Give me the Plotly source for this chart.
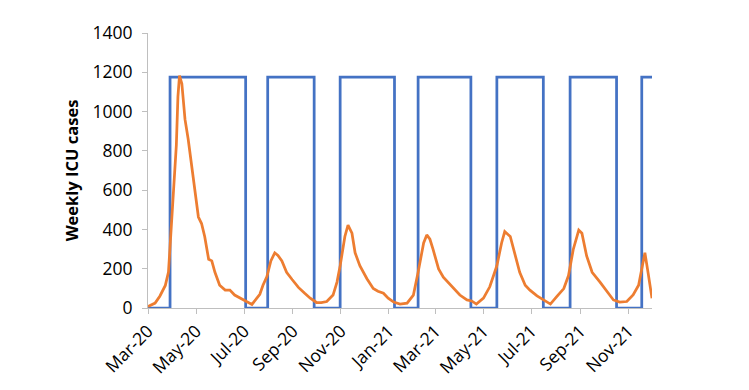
import plotly.graph_objects as go

# Blue step series (state changes; 'hv' step shape)
blue_dates = ["2020-03-01", "2020-03-29", "2020-07-03", "2020-07-31", "2020-09-28",
              "2020-10-31", "2021-01-08", "2021-02-07", "2021-04-15", "2021-05-18",
              "2021-07-16", "2021-08-19", "2021-10-17", "2021-11-18", "2021-12-01"]
blue_values = [0, 1175, 0, 1175, 0, 1175, 0, 1175, 0, 1175, 0, 1175, 0, 1175, 1175]

# Orange series (weekly ICU cases)
orange_dates = [
    "2020-03-01", "2020-03-10", "2020-03-16", "2020-03-23", "2020-03-27", "2020-03-29",
    "2020-04-02", "2020-04-06", "2020-04-08", "2020-04-10", "2020-04-13", "2020-04-17",
    "2020-04-21", "2020-04-25", "2020-04-30", "2020-05-04", "2020-05-08", "2020-05-12",
    "2020-05-17", "2020-05-21", "2020-05-25", "2020-05-31", "2020-06-07", "2020-06-13",
    "2020-06-19", "2020-06-26", "2020-07-03", "2020-07-11", "2020-07-21", "2020-07-25",
    "2020-07-30", "2020-08-04", "2020-08-09", "2020-08-13", "2020-08-18", "2020-08-24",
    "2020-08-31", "2020-09-08", "2020-09-16", "2020-09-23", "2020-10-01", "2020-10-07",
    "2020-10-14", "2020-10-22", "2020-10-27", "2020-10-31", "2020-11-06", "2020-11-10",
    "2020-11-15", "2020-11-19", "2020-11-25", "2020-12-04", "2020-12-12", "2020-12-18",
    "2020-12-25", "2020-12-31", "2021-01-07", "2021-01-15", "2021-01-24", "2021-02-01",
    "2021-02-07", "2021-02-14", "2021-02-18", "2021-02-22", "2021-02-26", "2021-03-05",
    "2021-03-11", "2021-03-17", "2021-03-24", "2021-04-01", "2021-04-10", "2021-04-16",
    "2021-04-22", "2021-05-01", "2021-05-09", "2021-05-18", "2021-05-24", "2021-05-28",
    "2021-06-04", "2021-06-10", "2021-06-16", "2021-06-23", "2021-06-29", "2021-07-08",
    "2021-07-16", "2021-07-25", "2021-08-02", "2021-08-11", "2021-08-17", "2021-08-23",
    "2021-08-30", "2021-09-03", "2021-09-09", "2021-09-16", "2021-09-26", "2021-10-05",
    "2021-10-13", "2021-10-21", "2021-10-30", "2021-11-07", "2021-11-14", "2021-11-18",
    "2021-11-22", "2021-11-26", "2021-12-01"]
orange_values = [
    8, 25, 60, 115, 183, 315,
    580, 830, 1075, 1183, 1142, 960,
    860, 730, 580, 463, 430, 364,
    248, 240, 182, 116, 91, 91,
    66, 50, 36, 18, 70, 116,
    160, 240, 281, 268, 240, 182,
    145, 105, 75, 50, 28, 28,
    33, 66, 132, 215, 364, 422,
    381, 281, 215, 149, 99, 85,
    75, 50, 30, 20, 25, 66,
    182, 331, 372, 350, 298, 199,
    157, 132, 99, 66, 41, 36,
    20, 50, 108, 215, 331, 389,
    364, 265, 182, 116, 91, 62,
    41, 20, 58, 99, 165, 298,
    397, 381, 265, 182, 132, 83,
    41, 30, 33, 66, 116, 199,
    281, 180, 50]

tick_dates = ["2020-03-01", "2020-05-01", "2020-07-01", "2020-09-01", "2020-11-01",
              "2021-01-01", "2021-03-01", "2021-05-01", "2021-07-01", "2021-09-01",
              "2021-11-01"]
tick_labels = ["Mar-20", "May-20", "Jul-20", "Sep-20", "Nov-20", "Jan-21",
               "Mar-21", "May-21", "Jul-21", "Sep-21", "Nov-21"]

fig = go.Figure()
fig.add_trace(go.Scatter(x=blue_dates, y=blue_values, mode="lines",
                         line=dict(color="#4472C4", width=2.75, shape="hv"),
                         showlegend=False))
fig.add_trace(go.Scatter(x=orange_dates, y=orange_values, mode="lines",
                         line=dict(color="#ED7D31", width=2.75),
                         showlegend=False))

fig.update_layout(
    width=741, height=382,
    margin=dict(l=140, r=97, t=20, b=80),
    paper_bgcolor="white", plot_bgcolor="white",
    font=dict(family="Open Sans", size=17.5, color="#000000"),
)
fig.update_xaxes(
    type="date", range=["2020-03-01", "2021-12-01"],
    tickvals=tick_dates, ticktext=tick_labels, tickangle=-45,
    showgrid=False, zeroline=False,
    showline=True, linecolor="#BFBFBF", linewidth=1,
    ticks="outside", ticklen=5, tickcolor="#BFBFBF",
    tickfont=dict(family="Open Sans", size=17.5, color="#000000"),
)
fig.update_yaxes(
    range=[0, 1400], dtick=200, tick0=0,
    showgrid=False, zeroline=False,
    showline=True, linecolor="#BFBFBF", linewidth=1,
    ticks="outside", ticklen=5, tickcolor="#BFBFBF",
    ticklabelstandoff=6,
    tickfont=dict(family="Open Sans", size=17.5, color="#000000"),
    title=dict(text="<b>Weekly ICU cases</b>", standoff=9,
               font=dict(family="Open Sans", size=16.5, color="#000000")),
)

fig.write_html("out.html")
